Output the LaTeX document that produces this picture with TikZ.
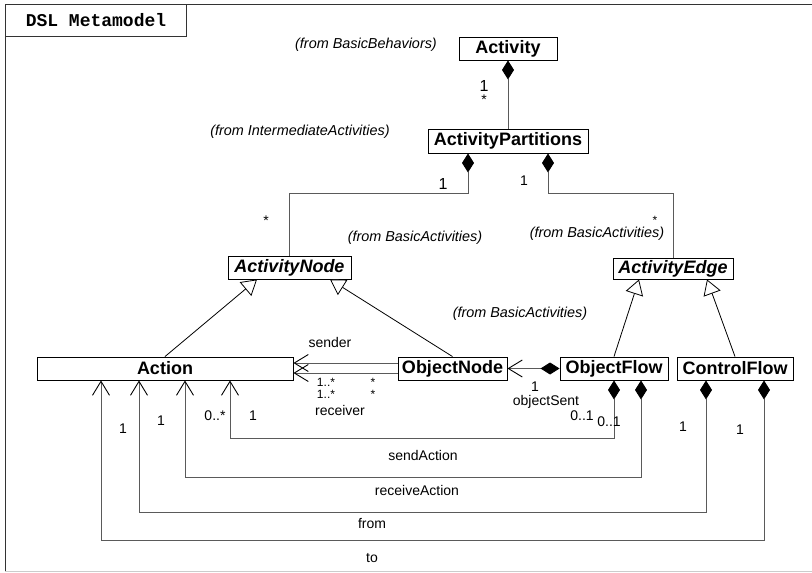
\documentclass[tikz,border=0pt]{standalone}
\usepackage{fontspec}
\setmainfont{Liberation Sans}
\newfontfamily\monofont{Liberation Mono}
\usetikzlibrary{arrows.meta}
\definecolor{linegray}{HTML}{5A5A5A}
\definecolor{framegray}{HTML}{333333}
\begin{document}
\begin{tikzpicture}[x=1pt,y=-1pt,
  cls/.style={draw, fill=white, line width=0.9pt, inner sep=0pt,
    font=\fontsize{18}{18}\selectfont\bfseries},
  abscls/.style={cls, font=\fontsize{18}{18}\selectfont\bfseries\itshape},
  lbl/.style={font=\fontsize{14}{14}\selectfont, inner sep=0pt},
  small/.style={font=\fontsize{12}{12}\selectfont, inner sep=0pt},
  pkg/.style={font=\fontsize{14.4}{14}\selectfont\itshape, inner sep=0pt},
  assoc/.style={draw=linegray, line width=0.9pt},
  comp/.style={assoc, {Diamond[length=19pt,width=12pt,color=black]}-},
  compnav/.style={assoc, {Diamond[length=19pt,width=12pt,color=black]}-{Straight Barb[length=14pt,width=17pt,color=black]}},
  nav/.style={assoc, -{Straight Barb[length=14pt,width=17pt,color=black]}},
  gen/.style={draw=black, line width=0.8pt, -{Triangle[length=15pt,width=18pt,fill=white,color=black]}}
]
\useasboundingbox (0,0) rectangle (812,573);

% frame and title tab
\draw[framegray, line width=1pt] (5,571) -- (5,4) -- (812,4);
\draw[gray!40, line width=1pt] (5,571) -- (812,571);
\node[draw=framegray, line width=1pt, anchor=north west, minimum width=181, minimum height=32,
  inner sep=0pt, font=\monofont\bfseries\fontsize{18}{18}\selectfont] (title) at (5,4) {DSL Metamodel};

% classes
\node[cls, minimum width=98, minimum height=23] (activity) at (508,48.5) {Activity};
\node[cls, minimum width=160, minimum height=24] (partitions) at (508,141) {ActivityPartitions};
\node[abscls, minimum width=123, minimum height=23] (anode) at (289.5,267.5) {ActivityNode};
\node[abscls, minimum width=120, minimum height=21] (aedge) at (673,268.5) {ActivityEdge};
\node[cls, minimum width=256, minimum height=23] (action) at (165,368.5) {Action};
\node[cls, minimum width=109, minimum height=23] (onode) at (452.5,368.5) {ObjectNode};
\node[cls, minimum width=108, minimum height=23] (oflow) at (614,368.5) {ObjectFlow};
\node[cls, minimum width=116, minimum height=23] (cflow) at (735,368.5) {ControlFlow};

% package notes
\node[pkg] (nbeh) at (366,45) {(from BasicBehaviors)};
\node[pkg] (nint) at (300,132) {(from IntermediateActivities)};
\node[pkg] (nba1) at (415,238) {(from BasicActivities)};
\node[pkg] (nba2) at (597,234) {(from BasicActivities)};
\node[pkg] (nba3) at (520,314) {(from BasicActivities)};

% compositions at the top
\draw[comp] (activity.south) -- (partitions.north);
\coordinate (pa1) at (468,193);
\coordinate (pa2) at (289.5,193);
\draw[comp] (partitions.south -| pa1) -- (pa1) -- (pa2) -- (anode.north);
\coordinate (pe1) at (548,193);
\coordinate (pe2) at (673,193);
\draw[comp] (partitions.south -| pe1) -- (pe1) -- (pe2) -- (aedge.north);

% generalizations
\coordinate (g1) at (257,0);
\coordinate (g2) at (330,0);
\coordinate (g3) at (639,0);
\coordinate (g4) at (707,0);
\draw[gen] (action.north) -- (anode.south -| g1);
\draw[gen] (onode.north) -- (anode.south -| g2);
\draw[gen] (oflow.north) -- (aedge.south -| g3);
\draw[gen] (cflow.north) -- (aedge.south -| g4);

% sender / receiver
\coordinate (snd) at (0,363);
\coordinate (rcv) at (0,373);
\draw[nav] (onode.west |- snd) -- (action.east |- snd);
\draw[nav] (onode.west |- rcv) -- (action.east |- rcv);

% objectSent
\draw[compnav] (oflow.west) -- (onode.east);

% sendAction, receiveAction, from, to
\coordinate (sa1) at (614,438);
\coordinate (sa2) at (230,438);
\draw[compnav] (oflow.south -| sa1) -- (sa1) -- (sa2) -- (action.south -| sa2);
\coordinate (ra1) at (641,477);
\coordinate (ra2) at (185,477);
\draw[compnav] (oflow.south -| ra1) -- (ra1) -- (ra2) -- (action.south -| ra2);
\coordinate (fa1) at (706,512);
\coordinate (fa2) at (139,512);
\draw[compnav] (cflow.south -| fa1) -- (fa1) -- (fa2) -- (action.south -| fa2);
\coordinate (ta1) at (764,540);
\coordinate (ta2) at (101,540);
\draw[compnav] (cflow.south -| ta1) -- (ta1) -- (ta2) -- (action.south -| ta2);

% multiplicities and role names
\node[lbl, font=\fontsize{16}{16}\selectfont] (m1) at (484,86) {1};
\node[lbl] (m2) at (484,100) {*};
\node[lbl, font=\fontsize{16}{16}\selectfont] (m3) at (443,184) {1};
\node[lbl] (m4) at (524,181) {1};
\node[lbl] (m5) at (266,221) {*};
\node[small] (m6) at (655,220) {*};
\node[lbl] (rsender) at (330,342) {sender};
\node[small] (m7) at (326,382) {1..*};
\node[small] (m8) at (373,382) {*};
\node[small] (m9) at (326,394) {1..*};
\node[small] (m10) at (373,394) {*};
\node[lbl] (rreceiver) at (340,410) {receiver};
\node[lbl] (m11) at (535,387) {1};
\node[lbl] (robj) at (546,402) {objectSent};
\node[lbl] (m12) at (582,416) {0..1};
\node[lbl] (m13) at (609,422) {0..1};
\node[lbl] (m14) at (215,416) {0..*};
\node[lbl] (m15) at (253,416) {1};
\node[lbl] (m16) at (161,421) {1};
\node[lbl] (m17) at (123,429) {1};
\node[lbl] (m18) at (683,427) {1};
\node[lbl] (m19) at (740,430) {1};
\node[lbl] (rsend) at (423,455) {sendAction};
\node[lbl] (rrecv) at (417,490) {receiveAction};
\node[lbl] (rfrom) at (372,523) {from};
\node[lbl] (rto) at (372,558) {to};
\end{tikzpicture}
\end{document}
